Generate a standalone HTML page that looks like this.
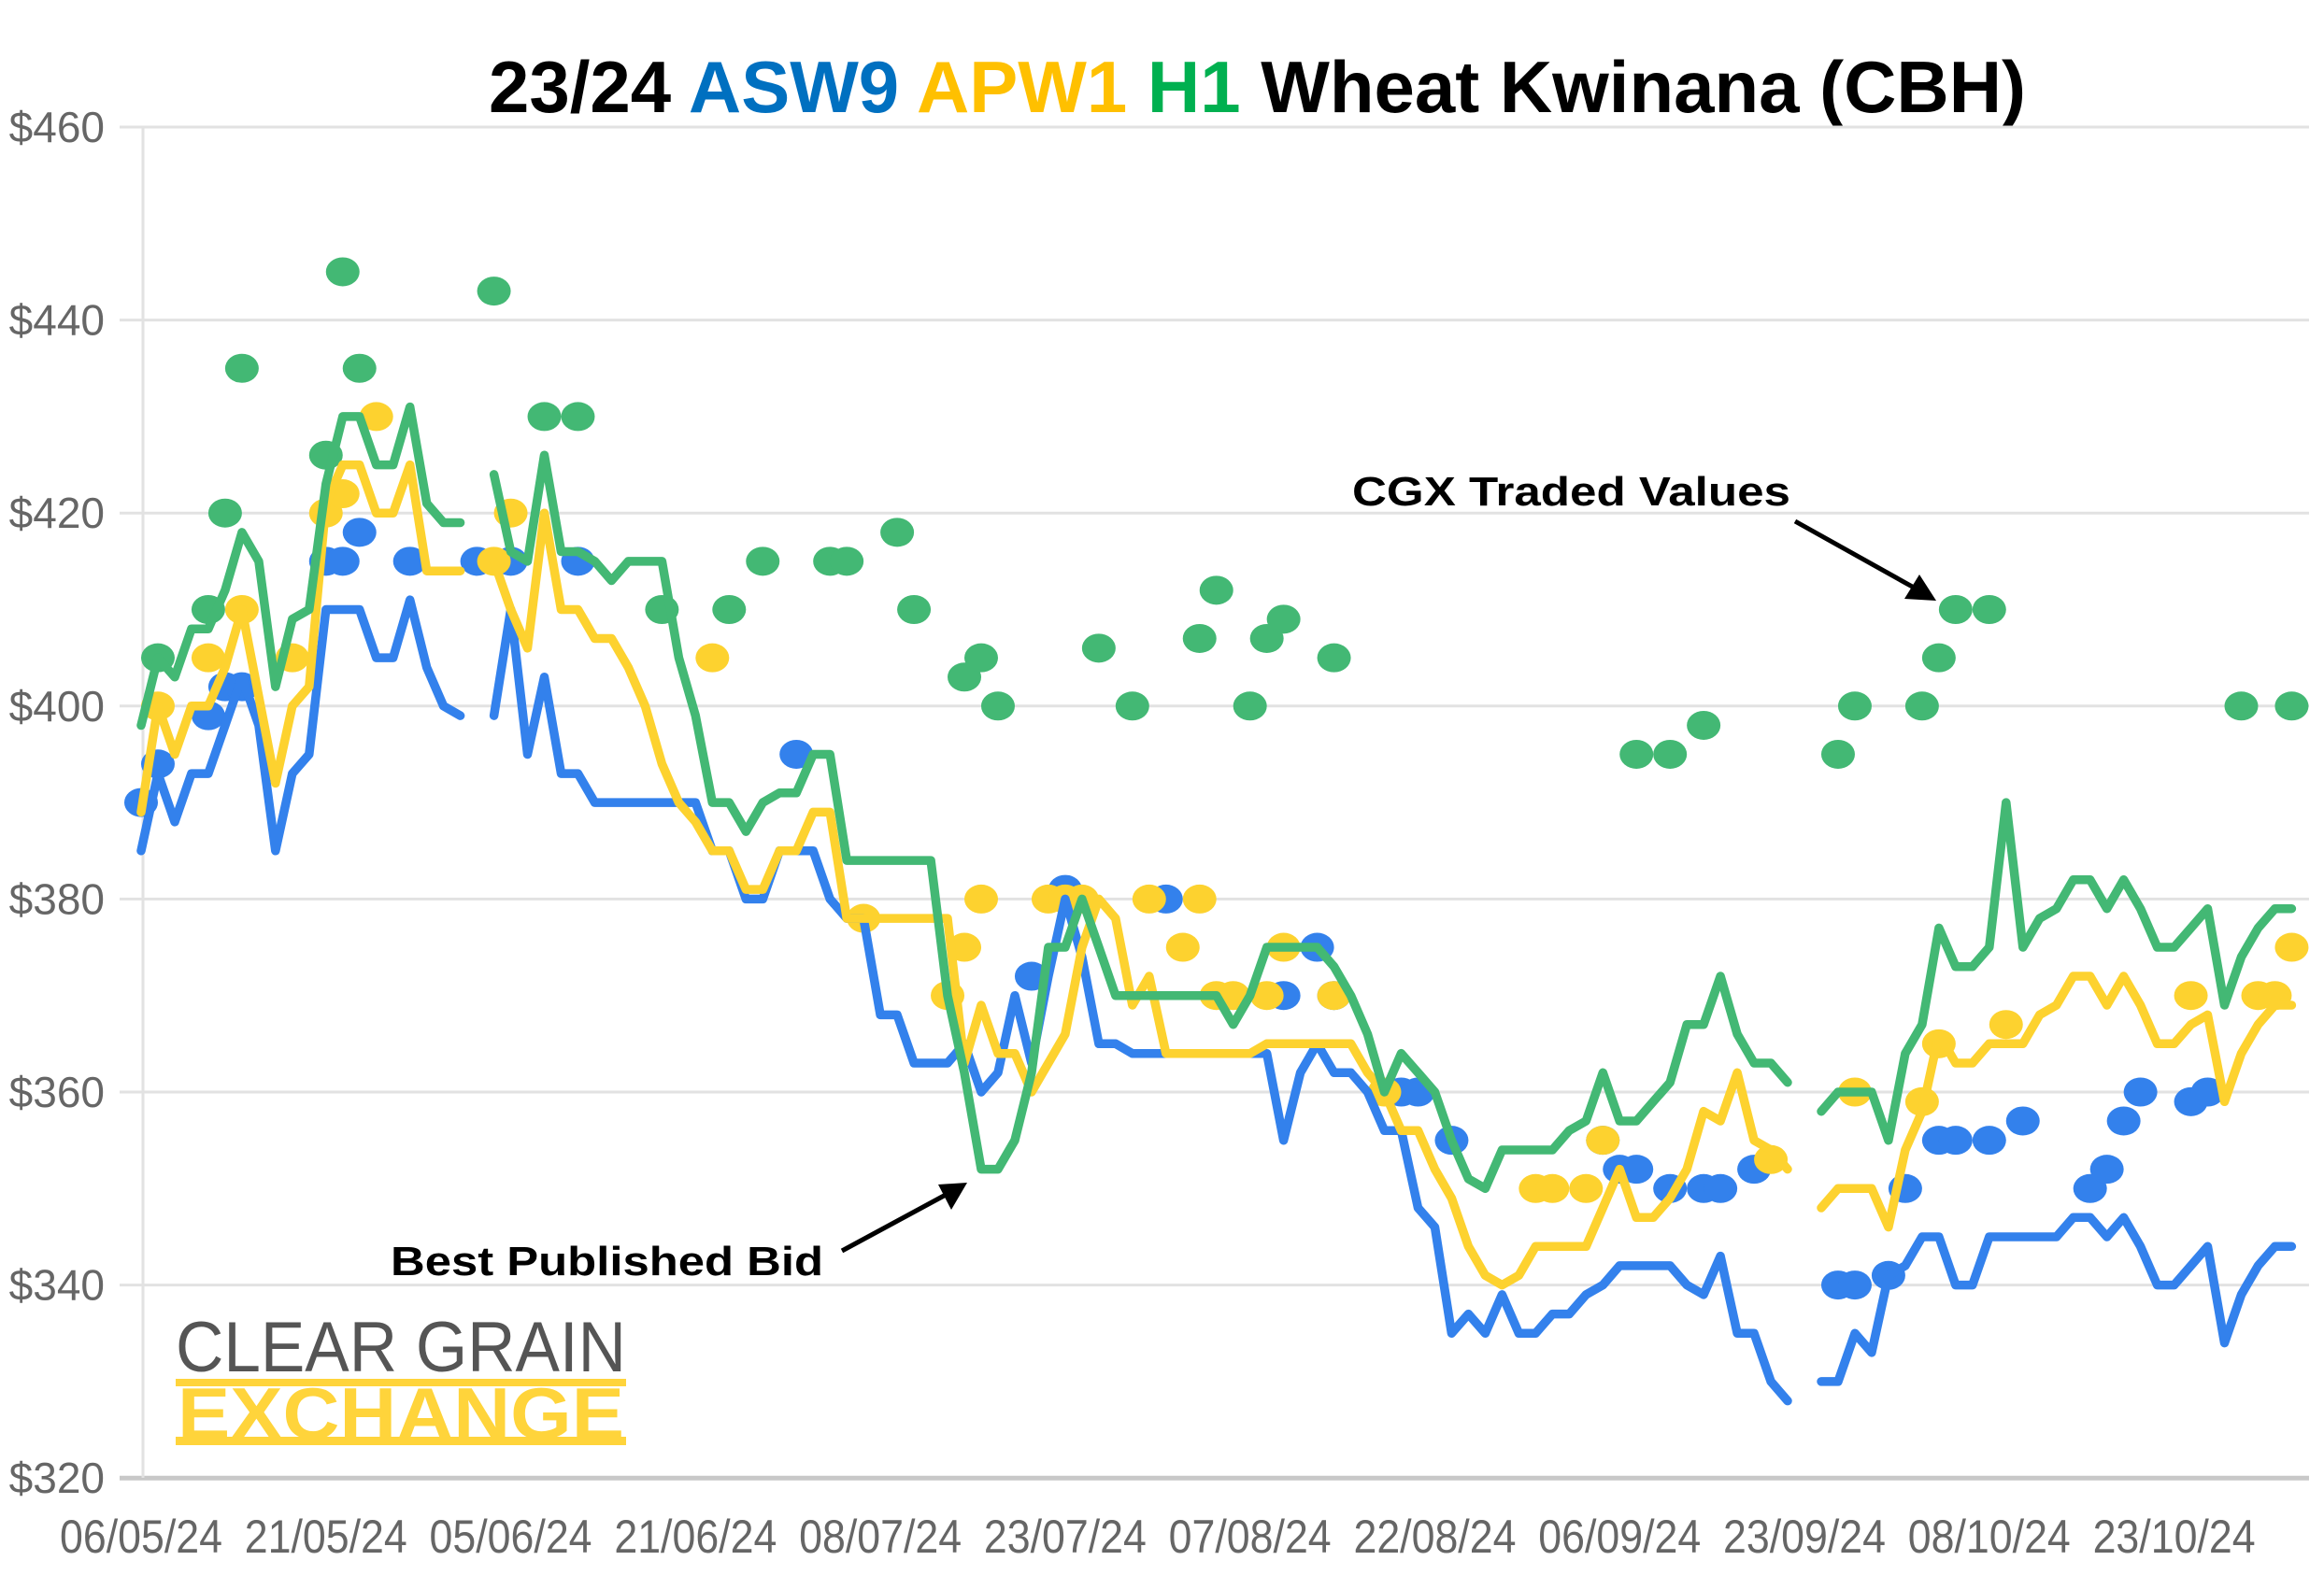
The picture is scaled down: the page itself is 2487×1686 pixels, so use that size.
<!DOCTYPE html>
<html><head><meta charset="utf-8"><style>
html,body{margin:0;padding:0;background:#fff;}
svg{display:block;}
</style></head><body>
<svg id="chart" width="2487" height="1686" viewBox="0 0 2487 1686" xmlns="http://www.w3.org/2000/svg">
<rect width="2487" height="1686" fill="#fff"/>
<text x="523" y="120" font-family="Liberation Sans, sans-serif" font-weight="bold" font-size="78" textLength="1645" lengthAdjust="spacingAndGlyphs"><tspan fill="#000">23/24 </tspan><tspan fill="#0070C0">ASW9 </tspan><tspan fill="#FFC000">APW1 </tspan><tspan fill="#00B050">H1 </tspan><tspan fill="#000">Wheat Kwinana (CBH)</tspan></text>
<g id="grid"></g>
<g id="yticks"></g>
<g id="xticks"></g>
<g id="dots"></g>
<g id="lines"></g>
<g>
<text x="1447" y="541" font-family="Liberation Sans, sans-serif" font-weight="bold" font-size="44" fill="#000" textLength="469" lengthAdjust="spacingAndGlyphs">CGX Traded Values</text>
<line x1="1921" y1="558" x2="2050" y2="630" stroke="#000" stroke-width="5"/>
<polygon points="2072,643 2038,641 2054,615" fill="#000"/>
</g>
<g>
<text x="418" y="1365" font-family="Liberation Sans, sans-serif" font-weight="bold" font-size="44" fill="#000" textLength="463" lengthAdjust="spacingAndGlyphs">Best Published Bid</text>
<line x1="901" y1="1339" x2="1012" y2="1279" stroke="#000" stroke-width="5"/>
<polygon points="1035,1266 1018,1295 1004,1268" fill="#000"/>
</g>
<g>
<text x="188" y="1468" font-family="Liberation Sans, sans-serif" font-size="76" fill="#555" textLength="482" lengthAdjust="spacingAndGlyphs">CLEAR GRAIN</text>
<rect x="188" y="1476" width="482" height="8" fill="#FFD43B"/>
<rect x="188" y="1538" width="482" height="9" fill="#FFD43B"/>
<text x="190" y="1540" font-family="Liberation Sans, sans-serif" font-weight="bold" font-size="78" fill="#FFD43B" textLength="478" lengthAdjust="spacingAndGlyphs">EXCHANGE</text>
</g>
</svg>
<script>
const yTicks = [320,340,360,380,400,420,440,460];
const yTickLabels = ["$320","$340","$360","$380","$400","$420","$440","$460"];
const xTickDays = [0,11,22,33,44,55,66,77,88,99,110,121];
const xTickLabels = ["06/05/24","21/05/24","05/06/24","21/06/24","08/07/24","23/07/24","07/08/24","22/08/24","06/09/24","23/09/24","08/10/24","23/10/24"];

const blueSeg1Start = 0;
const blueSeg1 = [385,393,388,393,393,398,403,398,385,393,395,410,410,410,405,405,411,404,400,399];
const blueSeg2Start = 21;
const blueSeg2 = [399,410,395,403,393,393,390,390,390,390,390,390,390,385,385,380,380,385,385,385,380,378,378,368,368,363,363,363,365,360,362,370,363,372,380,374,365,365,364,364,364,364,364,364,364,364,364,355,362,365,362,362,360,356,356,348,346,335,337,335,339,335,335,337,337,339,340,342,342,342,342,340,339,343,335,335,330,328];
const blueSeg3Start = 100;
const blueSeg3 = [330,330,335,333,341,342,345,345,340,340,345,345,345,345,345,347,347,345,347,344,340,340,342,344,334,339,342,344,344];

const yellowSeg1Start = 0;
const yellowSeg1 = [389,400,395,400,400,404,410,401,392,400,402,421,425,425,420,420,425,414,414,414];
const yellowSeg2Start = 21;
const yellowSeg2 = [415,410,406,420,410,410,407,407,404,400,394,390,388,385,385,381,381,385,385,389,389,378,378,378,378,378,378,378,363,369,364,364,360,363,366,375,380,378,369,372,364,364,364,364,364,364,365,365,365,365,365,365,362,360,356,356,352,349,344,341,340,341,344,344,344,344,348,352,347,347,349,352,358,357,362,355,354,352];
const yellowSeg3Start = 100;
const yellowSeg3 = [348,350,350,350,346,354,358,366,363,363,365,365,365,368,369,372,372,369,372,369,365,365,367,368,359,364,367,369,369];

const greenSeg1Start = 0;
const greenSeg1 = [398,405,403,408,408,412,418,415,402,409,410,423,430,430,425,425,431,421,419,419];
const greenSeg2Start = 21;
const greenSeg2 = [424,416,415,426,416,416,415,413,415,415,415,405,399,390,390,387,390,391,391,395,395,384,384,384,384,384,384,370,362,352,352,355,362,375,375,380,375,370,370,370,370,370,370,370,367,370,375,375,375,375,373,370,366,360,364,362,360,355,351,350,354,354,354,354,356,357,362,357,357,359,361,367,367,372,366,363,363,361];
const greenSeg3Start = 100;
const greenSeg3 = [358,360,360,360,355,364,367,377,373,373,375,390,375,378,379,382,382,379,382,379,375,375,377,379,369,374,377,379,379];

const greenDotDays = [1,4,5,6,11,12,13,21,24,26,31,35,37,41,42,45,46,49,50,51,57,59,63,64,66,67,68,71,89,91,93,101,102,106,107,108,110,125,128];
const greenDotValues = [405,410,420,435,426,445,435,443,430,430,410,410,415,415,415,418,410,403,405,400,406,400,407,412,400,407,409,405,395,395,398,395,400,400,405,410,410,400,400];
const blueDotDays = [0,1,4,5,6,11,12,13,16,20,22,26,39,53,55,61,68,70,71,75,76,78,87,88,89,91,93,94,96,101,102,104,105,107,108,110,112,116,117,118,119,122,123];
const blueDotValues = [390,394,399,402,402,415,415,418,415,415,415,415,395,372,381,380,370,375,370,360,360,355,355,352,352,350,350,350,352,340,340,341,350,355,355,355,357,350,352,357,360,359,360];
const yellowDotDays = [1,4,6,9,11,12,14,21,22,34,43,48,49,50,54,55,56,60,62,63,64,65,67,68,71,74,83,84,86,87,97,102,106,107,111,122,126,127,128];
const yellowDotValues = [400,405,410,405,420,422,430,415,420,405,378,370,375,380,380,380,380,380,375,380,370,370,370,375,370,360,350,350,350,355,353,360,359,365,367,370,370,370,375];

const NS = "http://www.w3.org/2000/svg";
function xScale(d){ return 151 + d * 17.98; }
function yScale(v){ return 136 + (460 - v) * 10.33; }

const grid = document.getElementById('grid');
const yt = document.getElementById('yticks');
yTicks.forEach((v, i) => {
  const l = document.createElementNS(NS, 'line');
  
  
  l.setAttribute('x1', 128); l.setAttribute('x2', 2471);
  l.setAttribute('y1', yScale(v)); l.setAttribute('y2', yScale(v));
  l.setAttribute('stroke', v === 320 ? '#c8c8c8' : '#e2e2e2');
  l.setAttribute('stroke-width', v === 320 ? 5 : 3);
  grid.appendChild(l);
  const t = document.createElementNS(NS, 'text');
  
  
  t.setAttribute('x', 112); t.setAttribute('y', yScale(v) + 16);
  t.setAttribute('text-anchor', 'end');
  t.setAttribute('font-family', 'Liberation Sans, sans-serif');
  t.setAttribute('font-size', '46');
  t.setAttribute('fill', '#666');
  t.textContent = yTickLabels[i];
  yt.appendChild(t);
});
const ax = document.createElementNS(NS, 'line');


ax.setAttribute('x1', 153); ax.setAttribute('x2', 153);
ax.setAttribute('y1', 136); ax.setAttribute('y2', 1582);
ax.setAttribute('stroke', '#e2e2e2'); ax.setAttribute('stroke-width', 3);
grid.appendChild(ax);

const xt = document.getElementById('xticks');
xTickDays.forEach((d, i) => {
  const t = document.createElementNS(NS, 'text');
  
  
  t.setAttribute('x', xScale(d)); t.setAttribute('y', 1662);
  t.setAttribute('text-anchor', 'middle');
  t.setAttribute('font-family', 'Liberation Sans, sans-serif');
  t.setAttribute('font-size', '50');
  t.setAttribute('fill', '#666');
  t.setAttribute('textLength', '174');
  t.setAttribute('lengthAdjust', 'spacingAndGlyphs');
  t.textContent = xTickLabels[i];
  xt.appendChild(t);
});

const dotsG = document.getElementById('dots');
function drawDots(days, vals, color, name){
  days.forEach((d, i) => {
    const e = document.createElementNS(NS, 'ellipse');
    
    
    e.setAttribute('cx', xScale(d)); e.setAttribute('cy', yScale(vals[i]));
    e.setAttribute('rx', 18); e.setAttribute('ry', 15.5);
    e.setAttribute('fill', color);
    dotsG.appendChild(e);
  });
}
drawDots(greenDotDays, greenDotValues, '#43b874', 'h1-traded-dot');
drawDots(blueDotDays, blueDotValues, '#3381ec', 'asw9-traded-dot');
drawDots(yellowDotDays, yellowDotValues, '#fdd22f', 'apw1-traded-dot');

const linesG = document.getElementById('lines');
function drawLine(start, vals, color, name){
  const pts = vals.map((v, i) => xScale(start + i).toFixed(1) + ',' + yScale(v).toFixed(1)).join(' ');
  const p = document.createElementNS(NS, 'polyline');
  
  
  p.setAttribute('points', pts);
  p.setAttribute('fill', 'none');
  p.setAttribute('stroke', color);
  p.setAttribute('stroke-width', 9.5);
  p.setAttribute('stroke-linejoin', 'round');
  p.setAttribute('stroke-linecap', 'round');
  linesG.appendChild(p);
}
drawLine(blueSeg1Start, blueSeg1, '#3381ec', 'asw9-bid-line');
drawLine(blueSeg2Start, blueSeg2, '#3381ec', 'asw9-bid-line');
drawLine(blueSeg3Start, blueSeg3, '#3381ec', 'asw9-bid-line');
drawLine(yellowSeg1Start, yellowSeg1, '#fdd22f', 'apw1-bid-line');
drawLine(yellowSeg2Start, yellowSeg2, '#fdd22f', 'apw1-bid-line');
drawLine(yellowSeg3Start, yellowSeg3, '#fdd22f', 'apw1-bid-line');
drawLine(greenSeg1Start, greenSeg1, '#43b874', 'h1-bid-line');
drawLine(greenSeg2Start, greenSeg2, '#43b874', 'h1-bid-line');
drawLine(greenSeg3Start, greenSeg3, '#43b874', 'h1-bid-line');
</script>
</body></html>
